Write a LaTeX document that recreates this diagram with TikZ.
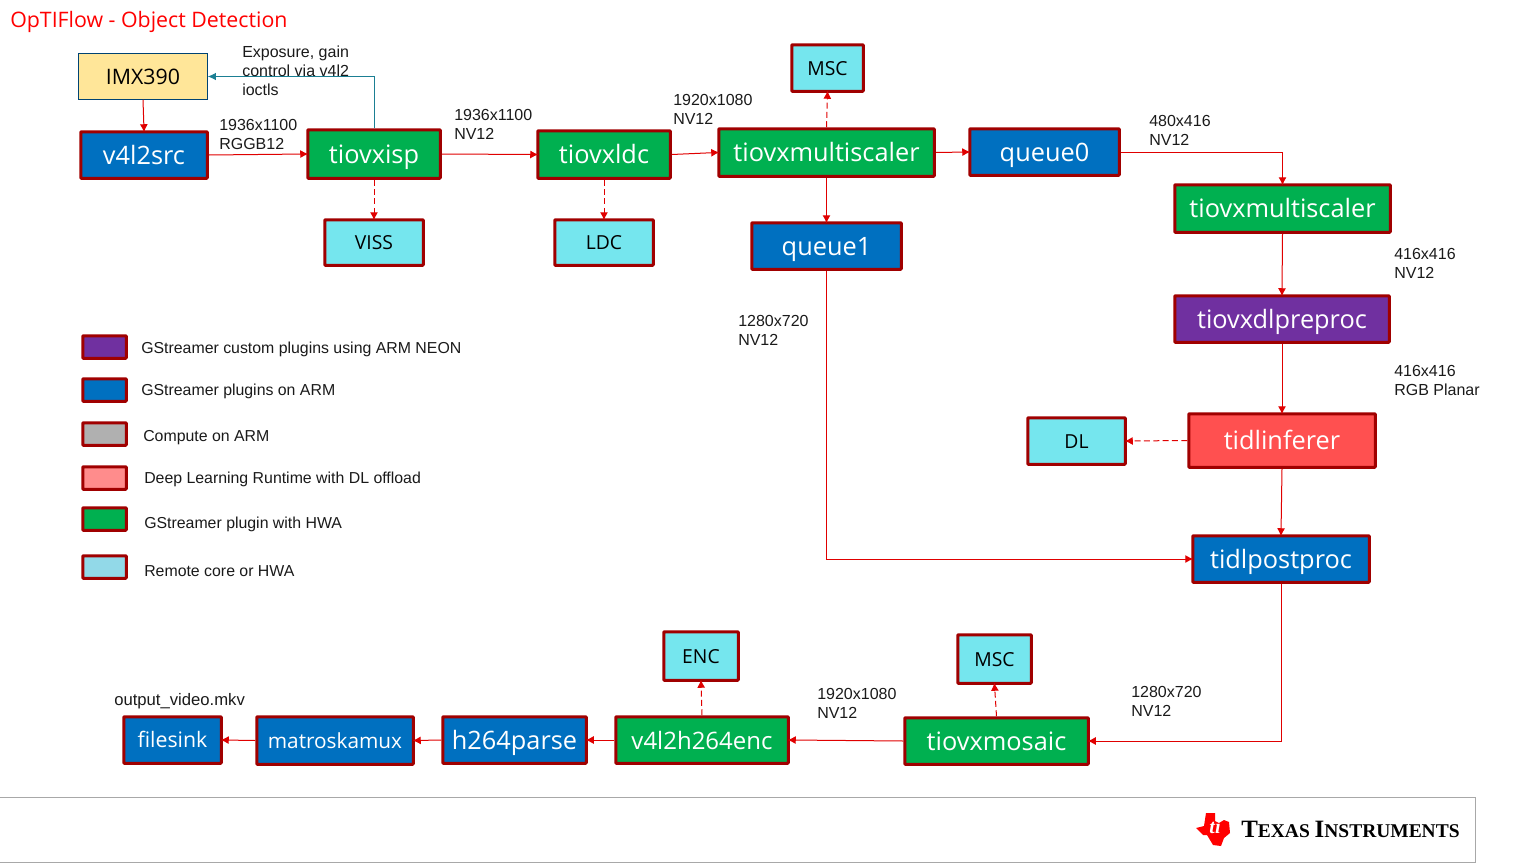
\documentclass[tikz,border=0pt]{standalone}
\usepackage{fontspec}
\setmainfont{Liberation Sans}
\newfontfamily\boxfont{Open Sans}
\newfontfamily\serfont{Liberation Serif}
\usetikzlibrary{arrows.meta}
\definecolor{bord}{HTML}{A00000}
\definecolor{cblue}{HTML}{0070C0}
\definecolor{cgreen}{HTML}{00B050}
\definecolor{cpurple}{HTML}{7030A0}
\definecolor{cred}{HTML}{FF5050}
\definecolor{ccyan}{HTML}{75E6EE}
\definecolor{cyellow}{HTML}{FFE699}
\definecolor{cteal}{HTML}{1B7F93}
\definecolor{lcyan}{HTML}{92D9E8}
\definecolor{lgray}{HTML}{B0B0B0}
\definecolor{lpink}{HTML}{FF8C8C}
\definecolor{foot}{HTML}{A8A8A8}
\definecolor{ared}{HTML}{E00000}
\definecolor{txt}{HTML}{1A1A1A}
\tikzset{
  x=0.75pt,y=-0.75pt,
  base/.style={draw=bord,line width=2.25pt,inner sep=0pt,rounded corners=0.5pt,font=\boxfont},
  big/.style={base,text=white,text height=17pt,text depth=3pt,font=\boxfont\fontsize{19}{22}\selectfont},
  midb/.style={big,font=\boxfont\fontsize{18}{22}\selectfont},
  smallb/.style={big,text height=14pt,text depth=2.5pt},
  hw/.style={base,fill=ccyan,text=black,text height=13pt,text depth=2pt,font=\boxfont\fontsize{14.5}{17}\selectfont},
  swatch/.style={draw=bord,line width=2.25pt,inner sep=0pt,rounded corners=0.5pt},
  note/.style={anchor=north west,align=left,inner sep=0pt,text=txt,font=\fontsize{12}{14.25}\selectfont},
  leg/.style={anchor=west,inner sep=0pt,text=txt,font=\fontsize{11.9}{14}\selectfont},
  flow/.style={draw=ared,line width=0.75pt,shorten >=-1.5pt,-{Latex[length=6pt,width=6pt]}},
  flowd/.style={flow,dash pattern=on 4.5pt off 2.5pt},
  ctrl/.style={draw=cteal,line width=0.75pt,-{Latex[length=6pt,width=5.5pt]}},
}
\newcommand{\bx}[7]{\node[#2,minimum width={(#5-#3-1.5)*0.75pt},minimum height={(#6-#4-1.5)*0.75pt}] (#1) at ({(#3+#5)/2},{(#4+#6)/2}) {#7};}
\begin{document}
\begin{tikzpicture}
\useasboundingbox (0,0) rectangle (1536,864);
\node[anchor=west,inner sep=0pt,text=red,font=\boxfont\fontsize{16}{18}\selectfont] (title) at (10,22) {OpTIFlow - Object Detection};
% boxes
\bx{imx}{draw=cblue!60!black,line width=0.75pt,fill=cyellow,inner sep=0pt,text=black,font=\boxfont\fontsize{16}{19}\selectfont}{78}{53}{208}{100}{IMX390}
\bx{v4l}{big,fill=cblue}{80}{131}{208}{179}{v4l2src}
\bx{isp}{big,fill=cgreen}{307}{129}{441}{179}{tiovxisp}
\bx{ldc}{big,fill=cgreen}{537}{130}{671}{179}{tiovxldc}
\bx{ms}{big,fill=cgreen}{718}{128}{935}{177}{tiovxmultiscaler}
\bx{qa}{big,fill=cblue}{969}{128}{1120}{176}{queue0}
\bx{msb}{big,fill=cgreen}{1174}{184}{1391}{233}{tiovxmultiscaler}
\bx{pre}{big,fill=cpurple}{1174}{295}{1390}{343}{tiovxdlpreproc}
\bx{inf}{big,fill=cred}{1188}{413}{1376}{468}{tidlinferer}
\bx{post}{big,fill=cblue}{1192}{535}{1370}{583}{tidlpostproc}
\bx{qb}{big,fill=cblue}{751}{222}{902}{270}{queue1}
\bx{mos}{big,fill=cgreen}{904}{717}{1089}{765}{tiovxmosaic}
\bx{enc}{midb,fill=cgreen}{615}{716}{789}{764}{v4l2h264enc}
\bx{parse}{big,fill=cblue}{442}{716}{587}{764}{h264parse}
\bx{mux}{smallb,fill=cblue,font=\boxfont\fontsize{15.6}{20}\selectfont}{256}{716}{414}{765}{matroskamux}
\bx{sink}{smallb,fill=cblue,font=\boxfont\fontsize{16}{20}\selectfont}{123}{716}{222}{764}{filesink}
\bx{msc}{hw}{791}{44}{864}{92}{MSC}
\bx{viss}{hw}{324}{219}{424}{266}{VISS}
\bx{ldcb}{hw}{554}{219}{654}{266}{LDC}
\bx{dl}{hw}{1027}{417}{1126}{465}{DL}
\bx{mscb}{hw}{957}{634}{1032}{684}{MSC}
\bx{encb}{hw}{663}{631}{739}{681}{ENC}
% connectors
\draw[flow] (imx.south) -- (v4l.north);
\draw[flow] (v4l.east) -- (isp.west);
\draw[flow] (isp.east) -- (ldc.west);
\draw[flow] (ldc.east) -- (ms.west);
\draw[flow] (ms.east) -- (qa.west);
\draw[flow] (qa.east) -| (msb.north);
\draw[flow] (msb.south) -- (pre.north);
\draw[flow] (pre.south) -- (inf.north);
\draw[flow] (inf.south) -- (post.north);
\draw[flow] (ms.south) -- (qb.north);
\draw[flow] (qb.south) |- (post.west);
\draw[flow] (post.south) |- (mos.east);
\draw[flow] (mos.west) -- (enc.east);
\draw[flow] (enc.west) -- (parse.east);
\draw[flow] (parse.west) -- (mux.east);
\draw[flow] (mux.west) -- (sink.east);
\draw[flowd] (isp.south) -- (viss.north);
\draw[flowd] (ldc.south) -- (ldcb.north);
\draw[flowd] (ms.north) -- (msc.south);
\draw[flowd] (inf.west) -- (dl.east);
\draw[flowd] (mos.north) -- (mscb.south);
\draw[flowd] (enc.north) -- (encb.south);
\draw[ctrl] (isp.north) |- (imx.east);
% notes
\node[note] (n1) at (242,45.5) {Exposure, gain\\control via v4l2\\ioctls};
\node[note] (n2) at (219,119) {1936x1100\\RGGB12};
\node[note] (n3) at (454,109) {1936x1100\\NV12};
\node[note] (n4) at (673,94) {1920x1080\\NV12};
\node[note] (n5) at (1149,115) {480x416\\NV12};
\node[note] (n6) at (1394,248) {416x416\\NV12};
\node[note] (n7) at (1394,365) {416x416\\RGB Planar};
\node[note] (n8) at (738,315) {1280x720\\NV12};
\node[note] (n9) at (1131,686) {1280x720\\NV12};
\node[note] (n10) at (817,688) {1920x1080\\NV12};
\node[note,font=\fontsize{12.5}{14.25}\selectfont] (n11) at (114,693) {output\_video.mkv};
% legend
\bx{s1}{swatch,fill=cpurple}{82}{335}{127}{359}{}
\bx{s2}{swatch,fill=cblue}{82}{378}{127}{402}{}
\bx{s3}{swatch,fill=lgray}{82}{422}{127}{446}{}
\bx{s4}{swatch,fill=lpink}{82}{466}{127}{490}{}
\bx{s5}{swatch,fill=cgreen}{82}{507}{127}{531}{}
\bx{s6}{swatch,fill=lcyan}{82}{555}{127}{579}{}
\node[leg] (l1) at (141,349) {GStreamer custom plugins using ARM NEON};
\node[leg] (l2) at (141,391) {GStreamer plugins on ARM};
\node[leg] (l3) at (143,438) {Compute on ARM};
\node[leg] (l4) at (144,479) {Deep Learning Runtime with DL offload};
\node[leg] (l5) at (144,524) {GStreamer plugin with HWA};
\node[leg] (l6) at (144,571) {Remote core or HWA};
% footer
\draw[foot,line width=0.75pt] (0,797.5) -- (1475.5,797.5) -- (1475.5,862.5) -- (0,862.5);
% logo
\fill[red] (1206,813) -- (1215,813) -- (1215,821) -- (1219,823) -- (1224,820) -- (1229,822) -- (1230,833) -- (1224,838) -- (1221,846) -- (1213,845) -- (1207,835) -- (1203,835) -- (1196,828) -- (1204,826) -- cycle;
\node[text=white,inner sep=0pt,font=\serfont\bfseries\itshape\fontsize{15}{15}\selectfont] (tilogo) at (1215,827) {ti};
\node[anchor=west,inner sep=0pt,text=black,font=\serfont\bfseries\fontsize{18.7}{20}\selectfont] (ti) at (1241,829) {T\fontsize{14.6}{20}\selectfont EXAS \fontsize{18.7}{20}\selectfont I\fontsize{14.6}{20}\selectfont NSTRUMENTS};
\end{tikzpicture}
\end{document}
